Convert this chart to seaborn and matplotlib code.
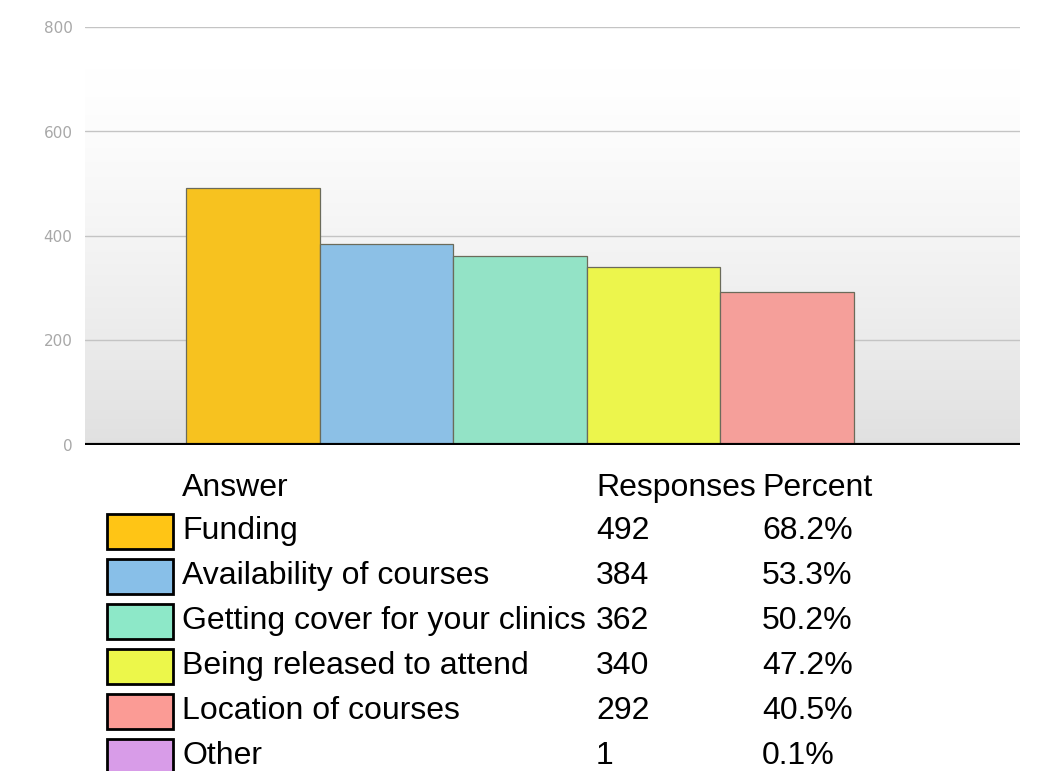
import numpy as np
import pandas as pd
import matplotlib
matplotlib.use("Agg")
import matplotlib.pyplot as plt
from matplotlib.patches import Rectangle
import seaborn as sns

# Survey answers and their counts
answers = ["Funding", "Availability of courses", "Getting cover for your clinics",
           "Being released to attend", "Location of courses", "Other"]
responses = [492, 384, 362, 340, 292, 1]
percents = ["68.2%", "53.3%", "50.2%", "47.2%", "40.5%", "0.1%"]
bar_colors = ["#f7c21f", "#8cc0e6", "#93e3c6", "#ecf54c", "#f59f9a", "#d69ce6"]
swatch_colors = ["#ffc515", "#88bfe8", "#8de8c8", "#ecf74a", "#fb9b95", "#d89ce8"]
y_ticks = [0, 200, 400, 600, 800]

df = pd.DataFrame({"Answer": answers, "Responses": responses})

sns.set_theme(style="white")
plt.rcParams["font.family"] = ["Liberation Sans", "DejaVu Sans"]

W, H = 1057, 771
fig = plt.figure(figsize=(W / 100, H / 100), dpi=100)
fig.patch.set_facecolor("white")

ax_left, ax_right, ax_top, ax_bottom = 85, 1020, 27, 445
ax = fig.add_axes([ax_left / W, 1 - ax_bottom / H,
                   (ax_right - ax_left) / W, (ax_bottom - ax_top) / H])

# vertical background gradient: white at top, light grey near the baseline
grad = np.linspace(0, 1, 256)
shade = np.clip((grad - 0.1) / 0.9, 0, 1) ** 1.3
vals = 1.0 - 0.12 * shade
img = np.stack([vals, vals, vals], axis=-1)[:, None, :].repeat(2, axis=1)
xlo, xhi = -1.257, 5.747
ax.imshow(img, extent=[xlo, xhi, 0, 800], origin="upper", aspect="auto", zorder=0)

for t in y_ticks[1:]:
    ax.axhline(t, color="#c4c4c4", lw=1.0, zorder=1)

sns.barplot(data=df, x="Answer", y="Responses", hue="Answer",
            palette=bar_colors, legend=False, width=1.0, saturation=1,
            edgecolor="#6b6b5a", linewidth=0.9, ax=ax, zorder=2)

ax.axhline(0, color="black", lw=3, zorder=3)
ax.set_xlim(xlo, xhi)
ax.set_ylim(0, 800)
ax.set_xticks([])
ax.set_yticks(y_ticks)
ax.set_yticklabels([str(t) for t in y_ticks], color="#a8a8a8", fontsize=11,
                   family="DejaVu Sans")
ax.tick_params(axis="y", length=0, pad=9)
ax.set_xlabel("")
ax.set_ylabel("")
for s in ax.spines.values():
    s.set_visible(False)

# response table beneath the chart
fs = 23
col_answer, col_resp, col_pct = 182, 596, 762

def fy(py):
    return 1 - py / H

fig.text(col_answer / W, fy(488), "Answer", fontsize=fs, va="center", ha="left", color="black")
fig.text(col_resp / W, fy(488), "Responses", fontsize=fs, va="center", ha="left", color="black")
fig.text(col_pct / W, fy(488), "Percent", fontsize=fs, va="center", ha="left", color="black")

row0, step = 531, 45
for i, (a, r, p, c) in enumerate(zip(answers, responses, percents, swatch_colors)):
    yc = row0 + i * step
    fig.patches.append(Rectangle(((107) / W, fy(yc + 17.5)), 66 / W, 35 / H,
                                 transform=fig.transFigure, facecolor=c,
                                 edgecolor="black", linewidth=2))
    fig.text(col_answer / W, fy(yc), a, fontsize=fs, va="center", ha="left", color="black")
    fig.text(col_resp / W, fy(yc), str(r), fontsize=fs, va="center", ha="left", color="black")
    fig.text(col_pct / W, fy(yc), p, fontsize=fs, va="center", ha="left", color="black")

fig.savefig("out.png", dpi=100)
